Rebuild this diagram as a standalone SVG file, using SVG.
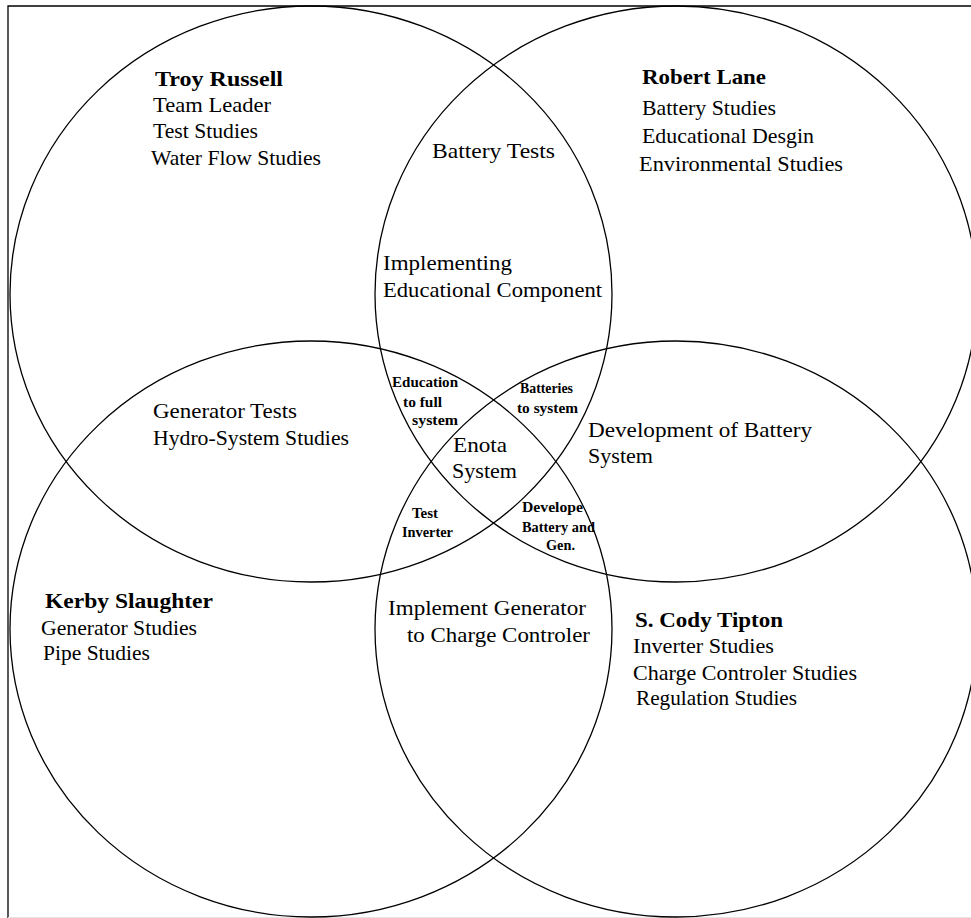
<svg xmlns="http://www.w3.org/2000/svg" width="971" height="918" viewBox="0 0 971 918">
<style>
.c{fill:none;stroke:#000;stroke-width:1.3}
text{font-family:"Liberation Serif","Times New Roman",serif;fill:#000}
.t{font-size:21px}
.b{font-size:21px;font-weight:bold}
.s{font-size:14px;font-weight:bold}
</style>
<rect width="971" height="918" fill="#fff"/>
<path d="M8,918 V6 H971" fill="none" stroke="#000" stroke-width="1.3"/>
<line x1="8" y1="917.5" x2="971" y2="917.5" stroke="#e4e4e4" stroke-width="1"/>
<g id="circle-troy">
<ellipse class="c" cx="311" cy="294" rx="301" ry="288"/>
<text class="b" x="155" y="86" textLength="128" lengthAdjust="spacingAndGlyphs">Troy Russell</text>
<text class="t" x="153" y="112" textLength="118" lengthAdjust="spacingAndGlyphs">Team Leader</text>
<text class="t" x="153" y="138" textLength="105" lengthAdjust="spacingAndGlyphs">Test Studies</text>
<text class="t" x="151" y="165" textLength="170" lengthAdjust="spacingAndGlyphs">Water Flow Studies</text>
</g>
<g id="circle-robert">
<ellipse class="c" cx="676" cy="294" rx="301" ry="288"/>
<text class="b" x="642" y="84" textLength="124" lengthAdjust="spacingAndGlyphs">Robert Lane</text>
<text class="t" x="642" y="115" textLength="134" lengthAdjust="spacingAndGlyphs">Battery Studies</text>
<text class="t" x="642" y="143" textLength="172" lengthAdjust="spacingAndGlyphs">Educational Desgin</text>
<text class="t" x="639" y="171" textLength="204" lengthAdjust="spacingAndGlyphs">Environmental Studies</text>
</g>
<g id="circle-kerby">
<ellipse class="c" cx="311" cy="629" rx="301" ry="288"/>
<text class="b" x="45" y="608" textLength="168" lengthAdjust="spacingAndGlyphs">Kerby Slaughter</text>
<text class="t" x="41" y="635" textLength="156" lengthAdjust="spacingAndGlyphs">Generator Studies</text>
<text class="t" x="43" y="660" textLength="107" lengthAdjust="spacingAndGlyphs">Pipe Studies</text>
</g>
<g id="circle-cody">
<ellipse class="c" cx="676" cy="629" rx="301" ry="288"/>
<text class="b" x="635" y="627" textLength="148" lengthAdjust="spacingAndGlyphs">S. Cody Tipton</text>
<text class="t" x="633" y="653" textLength="141" lengthAdjust="spacingAndGlyphs">Inverter Studies</text>
<text class="t" x="633" y="680" textLength="224" lengthAdjust="spacingAndGlyphs">Charge Controler Studies</text>
<text class="t" x="636" y="705" textLength="161" lengthAdjust="spacingAndGlyphs">Regulation Studies</text>
</g>
<g id="overlap-troy-robert">
<text class="t" x="432" y="158" textLength="123" lengthAdjust="spacingAndGlyphs">Battery Tests</text>
<text class="t" x="383" y="270" textLength="129" lengthAdjust="spacingAndGlyphs">Implementing</text>
<text class="t" x="383" y="297" textLength="219" lengthAdjust="spacingAndGlyphs">Educational Component</text>
</g>
<g id="overlap-troy-kerby">
<text class="t" x="153" y="418" textLength="144" lengthAdjust="spacingAndGlyphs">Generator Tests</text>
<text class="t" x="153" y="445" textLength="196" lengthAdjust="spacingAndGlyphs">Hydro-System Studies</text>
</g>
<g id="overlap-robert-cody">
<text class="t" x="588" y="437" textLength="224" lengthAdjust="spacingAndGlyphs">Development of Battery</text>
<text class="t" x="588" y="463" textLength="65" lengthAdjust="spacingAndGlyphs">System</text>
</g>
<g id="overlap-kerby-cody">
<text class="t" x="388" y="615" textLength="198" lengthAdjust="spacingAndGlyphs">Implement Generator</text>
<text class="t" x="407" y="642" textLength="183" lengthAdjust="spacingAndGlyphs">to Charge Controler</text>
</g>
<g id="overlap-troy-robert-kerby">
<text class="s" x="392" y="387" textLength="66" lengthAdjust="spacingAndGlyphs">Education</text>
<text class="s" x="403" y="407" textLength="39" lengthAdjust="spacingAndGlyphs">to full</text>
<text class="s" x="412" y="425" textLength="46" lengthAdjust="spacingAndGlyphs">system</text>
</g>
<g id="overlap-troy-robert-cody">
<text class="s" x="520" y="393" textLength="53" lengthAdjust="spacingAndGlyphs">Batteries</text>
<text class="s" x="517" y="413" textLength="61" lengthAdjust="spacingAndGlyphs">to system</text>
</g>
<g id="overlap-troy-kerby-cody">
<text class="s" x="412" y="518" textLength="26" lengthAdjust="spacingAndGlyphs">Test</text>
<text class="s" x="402" y="537" textLength="51" lengthAdjust="spacingAndGlyphs">Inverter</text>
</g>
<g id="overlap-robert-kerby-cody">
<text class="s" x="522" y="512" textLength="61" lengthAdjust="spacingAndGlyphs">Develope</text>
<text class="s" x="522" y="532" textLength="73" lengthAdjust="spacingAndGlyphs">Battery and</text>
<text class="s" x="546" y="550" textLength="29" lengthAdjust="spacingAndGlyphs">Gen.</text>
</g>
<g id="center-enota">
<text class="t" x="453" y="452" textLength="54" lengthAdjust="spacingAndGlyphs">Enota</text>
<text class="t" x="452" y="478" textLength="65" lengthAdjust="spacingAndGlyphs">System</text>
</g>
</svg>
